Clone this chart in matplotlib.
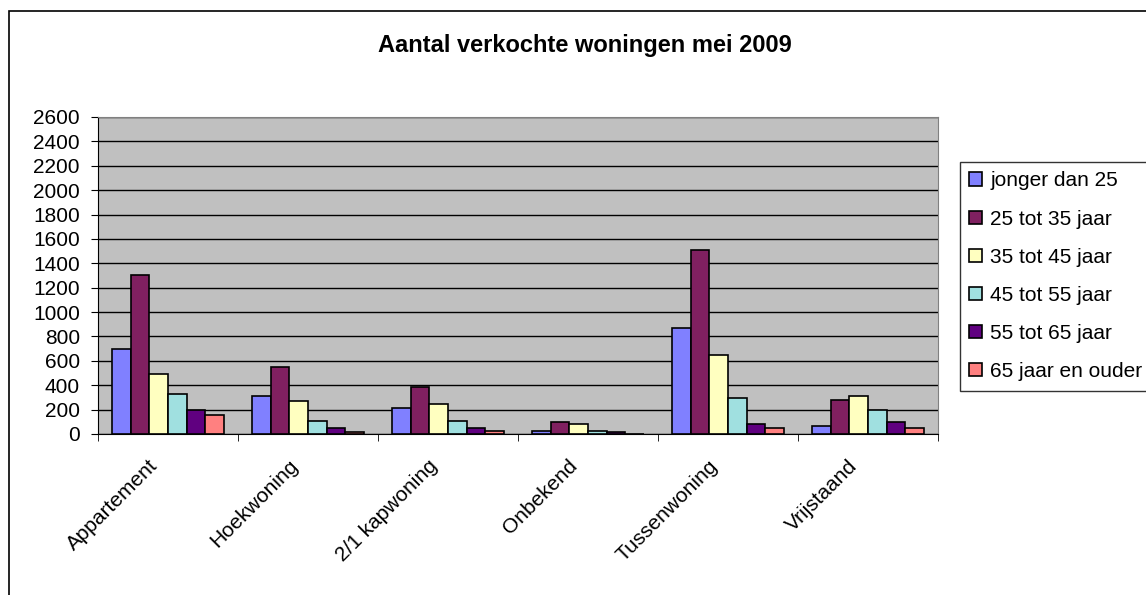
import matplotlib.pyplot as plt
import numpy as np
from matplotlib.patches import Rectangle
from matplotlib.transforms import ScaledTranslation

plt.rcParams["font.family"] = ["Liberation Sans", "DejaVu Sans"]

CATEGORIES = ["Appartement", "Hoekwoning", "2/1 kapwoning", "Onbekend", "Tussenwoning", "Vrijstaand"]
SERIES = ["jonger dan 25", "25 tot 35 jaar", "35 tot 45 jaar", "45 tot 55 jaar", "55 tot 65 jaar", "65 jaar en ouder"]
JONGER_25 = [700, 312, 210, 25, 867, 68]
TOT_35 = [1300, 552, 388, 96, 1510, 276]
TOT_45 = [490, 273, 243, 80, 650, 314]
TOT_55 = [325, 109, 109, 27, 293, 197]
TOT_65 = [194, 49, 49, 14, 82, 96]
OUDER_65 = [158, 14, 25, 0, 49, 52]
YTICKS = list(range(0, 2601, 200))

COLORS = ["#8080FF", "#802060", "#FFFFC0", "#A0E0E0", "#600080", "#FF8080"]


def main():
    values = [JONGER_25, TOT_35, TOT_45, TOT_55, TOT_65, OUDER_65]
    fig = plt.figure(figsize=(11.46, 5.95), dpi=100)
    ax = fig.add_axes([0.0855, 0.2706, 0.733, 0.5328])
    ax.set_facecolor("#C0C0C0")

    x = np.arange(len(CATEGORIES))
    width = 0.8 / len(SERIES)
    for i, (name, vals) in enumerate(zip(SERIES, values)):
        ax.bar(x - 0.4 + width * (i + 0.5), vals, width, color=COLORS[i],
               edgecolor="black", linewidth=1.2, label=name, zorder=3)

    ax.set_ylim(0, 2600)
    ax.set_xlim(-0.5, len(CATEGORIES) - 0.5)
    ax.set_yticks(YTICKS)
    ax.set_yticklabels([str(v) for v in YTICKS], fontsize=15)
    ax.yaxis.grid(True, color="black", linewidth=1, zorder=0)
    ax.set_axisbelow(True)

    ax.set_xticks(x)
    ax.set_xticklabels(CATEGORIES, rotation=45, ha="right", rotation_mode="anchor", fontsize=15)
    ax.tick_params(axis="x", length=0, pad=16)
    # shift the rotated labels a little to the left, like the original
    shift = ScaledTranslation(-0.20, 0.0, fig.dpi_scale_trans)
    for label in ax.get_xticklabels():
        label.set_transform(label.get_transform() + shift)
    ax.set_xticks(np.arange(-0.5, len(CATEGORIES) + 0.5), minor=True)
    ax.tick_params(axis="x", which="minor", length=5, direction="out", color="black")
    ax.tick_params(axis="y", length=5, direction="out", color="black", pad=8)

    for side in ["top", "right"]:
        ax.spines[side].set_color("#808080")
    for side in ["left", "bottom"]:
        ax.spines[side].set_color("black")

    fig.text(0.51, 0.924, "Aantal verkochte woningen mei 2009", ha="center", va="center",
             fontsize=17, fontweight="bold")

    leg = fig.legend(loc="upper left", bbox_to_anchor=(0.8377, 0.7277), fontsize=15,
                     frameon=True, fancybox=False, edgecolor="black", handlelength=0.6,
                     handleheight=0.6, handletextpad=0.4, labelspacing=0.92,
                     borderpad=0.45, borderaxespad=0)
    leg.get_frame().set_linewidth(1)

    fig.add_artist(Rectangle((0.008, -0.05), 1.0, 1.031, transform=fig.transFigure,
                             fill=False, edgecolor="black", linewidth=1.2))

    fig.savefig("out.png", dpi=100, facecolor="white")


if __name__ == "__main__":
    main()
